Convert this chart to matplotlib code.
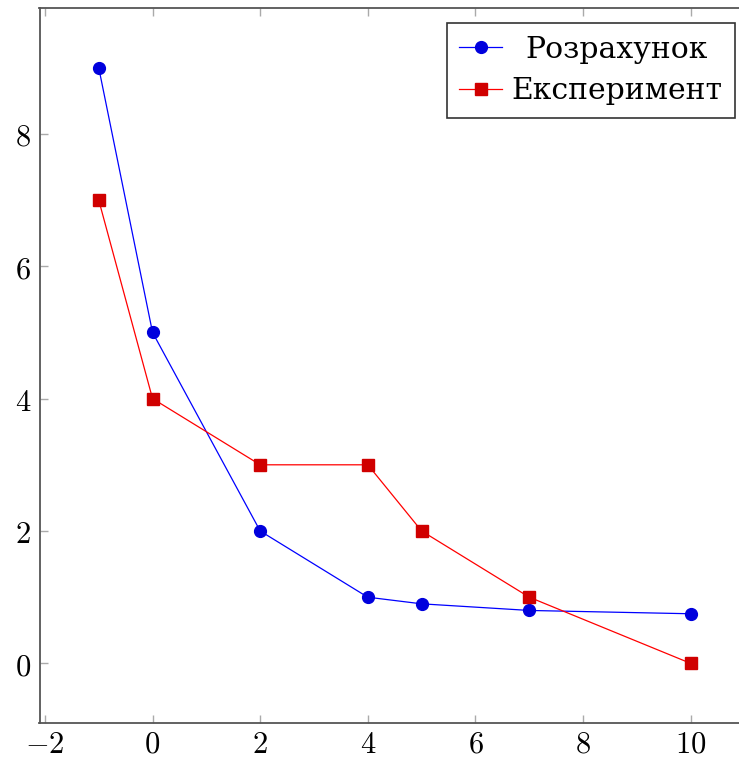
import matplotlib
matplotlib.use("Agg")
import matplotlib.pyplot as plt
from matplotlib.transforms import Affine2D

x_calc = [-1, 0, 2, 4, 5, 7, 10]
y_calc = [9, 5, 2, 1, 0.9, 0.8, 0.75]
x_exp = [-1, 0, 2, 4, 5, 7, 10]
y_exp = [7, 4, 3, 3, 2, 1, 0]
labels = ["Розрахунок", "Експеримент"]
xticks = [-2, 0, 2, 4, 6, 8, 10]
yticks = [0, 2, 4, 6, 8]

plt.rcParams['mathtext.fontset'] = 'cm'
plt.rcParams['font.family'] = ['DejaVu Serif', 'Liberation Serif']

fig = plt.figure(figsize=(7.39, 7.60), dpi=100)
W, H = 739, 760
left, right, top, bottom = 39.5, 750, 8, 723
ax = fig.add_axes([left / W, 1 - bottom / H, (right - left) / W, (bottom - top) / H])

ax.plot(x_calc, y_calc, color='blue', lw=0.9, marker='o', ms=8.5,
        mfc='#0000dd', mec='#0000dd', label=labels[0])
ax.plot(x_exp, y_exp, color='red', lw=0.9, marker='s', ms=8,
        mfc='#d00000', mec='#d00000', label=labels[1])

ax.set_xlim(-2.1, 11.1)
ax.set_ylim(-0.9, 9.9)
ax.set_xticks(xticks)
ax.set_yticks(yticks)
ax.set_xticklabels([f"${v}$" if v >= 0 else f"$-{abs(v)}$" for v in xticks])
ax.set_yticklabels([f"${v}$" for v in yticks])
ax.tick_params(direction='in', length=6, width=1, color='#aaaaaa',
               labelsize=22, top=True, right=True, pad=6)
ax.tick_params(axis='x', pad=4)
for s in ax.spines.values():
    s.set_color('#555555')
    s.set_linewidth(1.3)

leg = ax.legend(loc='upper right', bbox_to_anchor=(735 / W, 1 - 23 / H),
                bbox_transform=fig.transFigure, borderaxespad=0,
                fancybox=False, edgecolor='#333333', framealpha=1,
                prop={'family': ['DejaVu Serif'], 'size': 21.5},
                handlelength=1.45, handletextpad=0.3,
                borderpad=0.42, labelspacing=0.45)
leg.get_frame().set_linewidth(1.2)

# center the legend entry texts within their column
fig.canvas.draw()
r = fig.canvas.get_renderer()
texts = leg.get_texts()
widths = [t.get_window_extent(r).width for t in texts]
wmax = max(widths)
for t, w in zip(texts, widths):
    dx = (wmax - w) / 2
    if dx > 0:
        t.set_transform(t.get_transform() + Affine2D().translate(dx, 0))

fig.savefig("out.png", dpi=100)
